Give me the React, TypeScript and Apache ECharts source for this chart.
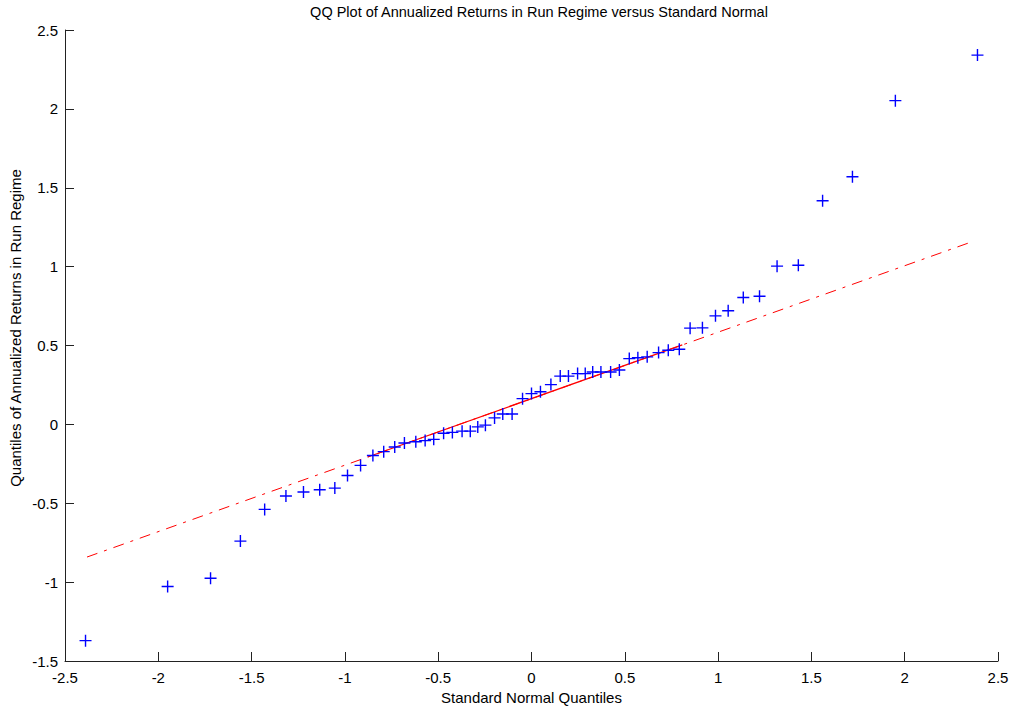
import React, { useEffect, useRef } from "react";
import * as echarts from "echarts";

const titleText = "QQ Plot of Annualized Returns in Run Regime versus Standard Normal";
const xAxisName = "Standard Normal Quantiles";
const yAxisName = "Quantiles of Annualized Returns in Run Regime";

// Standard normal quantiles (x)
const normalQuantiles = [
  -2.39, -1.95, -1.72, -1.56, -1.43, -1.316, -1.222, -1.135, -1.054, -0.986,
  -0.916, -0.85, -0.792, -0.733, -0.681, -0.62, -0.57, -0.524, -0.471, -0.424,
  -0.372, -0.328, -0.288, -0.247, -0.198, -0.154, -0.104, -0.048, 0,
  0.048, 0.104, 0.154, 0.198, 0.247, 0.288, 0.328, 0.372, 0.424, 0.471,
  0.524, 0.57, 0.62, 0.681, 0.733, 0.792, 0.85, 0.916, 0.986, 1.054,
  1.135, 1.222, 1.316, 1.43, 1.56, 1.72, 1.95, 2.39,
];

// Sample quantiles (y)
const sampleQuantiles = [
  -1.371, -1.028, -0.975, -0.74, -0.539, -0.454, -0.429, -0.414, -0.404, -0.324,
  -0.26, -0.197, -0.173, -0.143, -0.118, -0.11, -0.103, -0.095, -0.056, -0.051,
  -0.043, -0.043, -0.016, -0.005, 0.041, 0.066, 0.066, 0.163, 0.195,
  0.207, 0.252, 0.306, 0.306, 0.322, 0.322, 0.332, 0.332, 0.332, 0.345,
  0.417, 0.422, 0.428, 0.455, 0.47, 0.476, 0.61, 0.612, 0.688, 0.72,
  0.804, 0.812, 1.003, 1.009, 1.418, 1.57, 2.052, 2.341,
];

// Reference line (dash-dot over the full range, solid between the quartiles)
const refLineX = [-2.382, 2.359];
const refLineY = [-0.841, 1.157];
const refSolidX = [-0.878, 0.808];
const refSolidY = [-0.207, 0.504];

const xTicks = { min: -2.5, max: 2.5, interval: 0.5 };
const yTicks = { min: -1.5, max: 2.5, interval: 0.5 };

const FONT = "Liberation Sans, Arial, sans-serif";
const plusPath =
  "path://M5.3,0h1.4v5.3h5.3v1.4h-5.3v5.3h-1.4v-5.3h-5.3v-1.4h5.3z";

export default function App() {
  const ref = useRef<HTMLDivElement>(null);

  useEffect(() => {
    if (!ref.current) return;
    const chart = echarts.init(ref.current, null, { renderer: "svg" });

    const points = normalQuantiles.map((x, i) => [x, sampleQuantiles[i]]);
    const dashLine = refLineX.map((x, i) => [x, refLineY[i]]);
    const solidLine = refSolidX.map((x, i) => [x, refSolidY[i]]);

    const axisCommon = {
      axisLine: { show: true, onZero: false, lineStyle: { color: "#222", width: 1 } },
      axisTick: { show: true, inside: true, length: 9, lineStyle: { color: "#222", width: 1 } },
      splitLine: { show: false },
      axisLabel: { color: "#000", fontSize: 15, fontFamily: FONT },
    };

    chart.setOption({
      animation: false,
      backgroundColor: "#fff",
      grid: { left: 65, right: 18, top: 30, bottom: 43, containLabel: false },
      graphic: [
        {
          type: "text",
          x: 539,
          y: 12,
          style: {
            text: titleText,
            textAlign: "center",
            textVerticalAlign: "middle",
            fontSize: 14.5,
            fontFamily: FONT,
            fill: "#000",
          },
        },
        {
          type: "text",
          x: 15,
          y: 328,
          rotation: Math.PI / 2,
          style: {
            text: yAxisName,
            textAlign: "center",
            textVerticalAlign: "middle",
            fontSize: 15,
            fontFamily: FONT,
            fill: "#000",
          },
        },
      ],
      xAxis: {
        type: "value",
        ...xTicks,
        ...axisCommon,
        axisLabel: { ...axisCommon.axisLabel, margin: 9 },
        name: xAxisName,
        nameLocation: "middle",
        nameGap: 29,
        nameTextStyle: { color: "#000", fontSize: 15, fontFamily: FONT },
      },
      yAxis: {
        type: "value",
        ...yTicks,
        ...axisCommon,
        axisLabel: { ...axisCommon.axisLabel, margin: 7 },
      },
      series: [
        {
          type: "line",
          data: dashLine,
          symbol: "none",
          z: 2,
          lineStyle: { color: "#ff0000", width: 1, type: [11, 7, 3, 7] },
        },
        {
          type: "line",
          data: solidLine,
          symbol: "none",
          z: 2,
          lineStyle: { color: "#ff0000", width: 1.2, type: "solid" },
        },
        {
          type: "scatter",
          data: points,
          symbol: plusPath,
          symbolSize: 12,
          z: 3,
          itemStyle: { color: "#0000ff", opacity: 1 },
        },
      ],
    });

    return () => chart.dispose();
  }, []);

  return (
    <div
      ref={ref}
      style={{ position: "fixed", left: 0, top: 0, width: 1016, height: 710, background: "#fff" }}
    />
  );
}
